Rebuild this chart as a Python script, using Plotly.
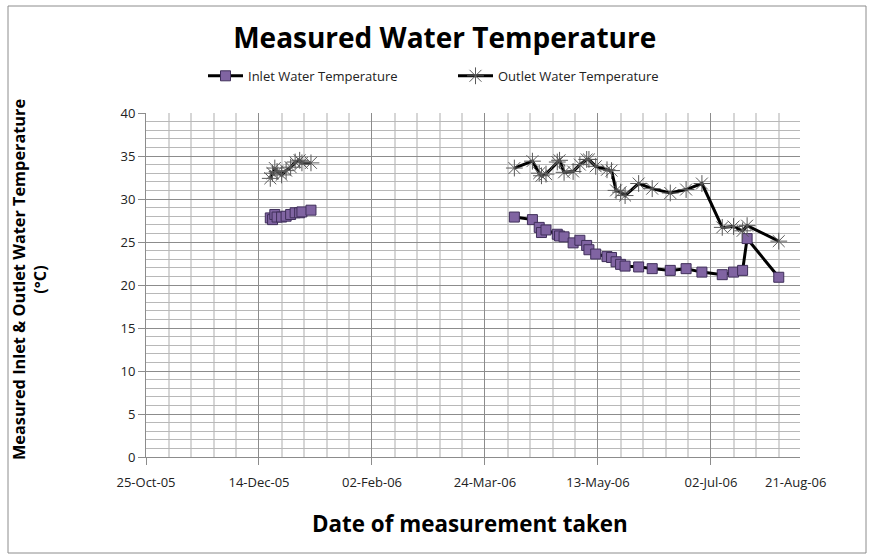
import plotly.graph_objects as go

# ---- data ----
dates_winter = ['2005-12-19', '2005-12-20', '2005-12-21', '2005-12-22', '2005-12-24',
                '2005-12-26', '2005-12-28', '2005-12-30', '2006-01-01', '2006-01-02',
                '2006-01-06']
inlet_winter = [27.8, 27.6, 28.2, 27.9, 27.9, 28.0, 28.2, 28.4, 28.4, 28.5, 28.7]
outlet_winter = [32.4, 33.0, 33.6, 33.2, 32.8, 33.3, 33.7, 34.3, 34.5, 34.2, 34.2]

dates_summer = ['2006-04-06', '2006-04-14', '2006-04-17', '2006-04-18', '2006-04-20',
                '2006-04-25', '2006-04-26', '2006-04-28', '2006-05-02', '2006-05-05',
                '2006-05-08', '2006-05-09', '2006-05-12', '2006-05-17', '2006-05-19',
                '2006-05-21', '2006-05-23', '2006-05-25', '2006-05-31', '2006-06-06',
                '2006-06-14', '2006-06-21', '2006-06-28', '2006-07-07', '2006-07-12',
                '2006-07-16', '2006-07-18', '2006-08-01']
inlet_summer = [27.9, 27.6, 26.7, 26.1, 26.4, 25.9, 25.7, 25.6, 24.9, 25.2,
                24.6, 24.1, 23.6, 23.3, 23.2, 22.7, 22.4, 22.2, 22.1, 21.9,
                21.7, 21.9, 21.5, 21.2, 21.5, 21.7, 25.4, 20.9]
outlet_summer = [33.6, 34.4, 33.0, 32.7, 32.9, 34.3, 34.5, 33.1, 33.2, 34.0,
                 34.6, 34.6, 33.8, 33.4, 33.3, 31.0, 30.8, 30.4, 31.8, 31.2,
                 30.7, 31.1, 31.8, 26.7, 26.8, 26.3, 26.9, 25.1]

gap_date = ['2006-02-15']  # empty row in the sheet -> line break

x_dates = dates_winter + gap_date + dates_summer
inlet = inlet_winter + [None] + inlet_summer
outlet = outlet_winter + [None] + outlet_summer

x_range = ['2005-10-25', '2006-08-10 09:36']
last_axis_label = '21-Aug-06'

FONT = "Open Sans, Arial, sans-serif"

fig = go.Figure()
fig.add_trace(go.Scatter(
    x=x_dates, y=inlet, name="Inlet Water Temperature", mode="lines+markers",
    line=dict(color="black", width=3),
    marker=dict(symbol="square", size=10, color="#8064A2",
                line=dict(color="#3f2f5a", width=1)),
    connectgaps=False))
fig.add_trace(go.Scatter(
    x=x_dates, y=outlet, name="Outlet Water Temperature", mode="lines+markers",
    line=dict(color="black", width=3),
    marker=dict(symbol="asterisk-open", size=14, color="#5a5a5a",
                line=dict(color="#5a5a5a", width=1)),
    connectgaps=False))

day_ms = 86400000
fig.update_xaxes(
    type="date", range=x_range,
    tick0="2005-10-25", dtick=50 * day_ms, tickformat="%d-%b-%y",
    showgrid=True, gridcolor="#8c8c8c", gridwidth=1,
    minor=dict(dtick=10 * day_ms, tick0="2005-10-25", showgrid=True,
               gridcolor="#d6d6d6", gridwidth=1.5),
    showline=True, linecolor="#8c8c8c", linewidth=1,
    ticks="outside", ticklen=7, tickcolor="#8c8c8c",
    ticklabelstandoff=6,
    tickfont=dict(family=FONT, size=13, color="#222"),
    zeroline=False)
fig.update_yaxes(
    range=[0, 40], dtick=5, tick0=0,
    showgrid=True, gridcolor="#8c8c8c", gridwidth=1,
    minor=dict(dtick=1, showgrid=True, gridcolor="#b8b8b8", gridwidth=1),
    showline=True, linecolor="#8c8c8c", linewidth=1,
    ticks="outside", ticklen=7, tickcolor="#8c8c8c",
    tickfont=dict(family=FONT, size=13, color="#222"),
    zeroline=False)

PW = 654
fig.update_layout(
    width=872, height=556,
    margin=dict(l=146, r=72, t=113, b=99),
    paper_bgcolor="white", plot_bgcolor="white",
    title=dict(text="<b>Measured Water Temperature</b>", x=0.51, xanchor="center",
               y=0.932, yanchor="middle",
               font=dict(family=FONT, size=28, color="black")),
    legend=dict(orientation="h", x=(203 - 146) / PW, xanchor="left",
                y=1.108, yanchor="middle",
                font=dict(family=FONT, size=13, color="#222"),
                bgcolor="rgba(0,0,0,0)", itemwidth=35,
                entrywidth=200, entrywidthmode="pixels"),
    showlegend=True,
    font=dict(family=FONT),
)

fig.add_annotation(
    text=last_axis_label, xref="paper", yref="paper",
    x=(795 - 146) / PW, y=(457 - 482) / 344, xanchor="center", yanchor="middle",
    showarrow=False, font=dict(family=FONT, size=13, color="#222"))
fig.add_annotation(
    text="<b>Measured Inlet & Outlet Water Temperature<br>(°C)</b>",
    xref="paper", yref="paper", x=(29 - 146) / PW, y=(457 - 280) / 344,
    xanchor="center", yanchor="middle",
    textangle=-90, showarrow=False,
    font=dict(family=FONT, size=16.3, color="black"))
fig.add_annotation(
    text="<b>Date of measurement taken</b>",
    xref="paper", yref="paper", x=(470 - 146) / PW, y=(457 - 523) / 344,
    xanchor="center", yanchor="middle",
    showarrow=False, font=dict(family=FONT, size=22.4, color="black"))

# outer chart border
fig.add_shape(type="rect", xref="paper", yref="paper",
              x0=(8 - 146) / PW, x1=(866 - 146) / PW,
              y0=(457 - 553) / 344, y1=(457 - 6) / 344,
              line=dict(color="#8c8c8c", width=1), fillcolor="rgba(0,0,0,0)",
              layer="below")

fig.write_html("out.html", config={"displayModeBar": False},
               post_script="document.body.style.margin='0px';document.body.style.overflow='hidden';")
